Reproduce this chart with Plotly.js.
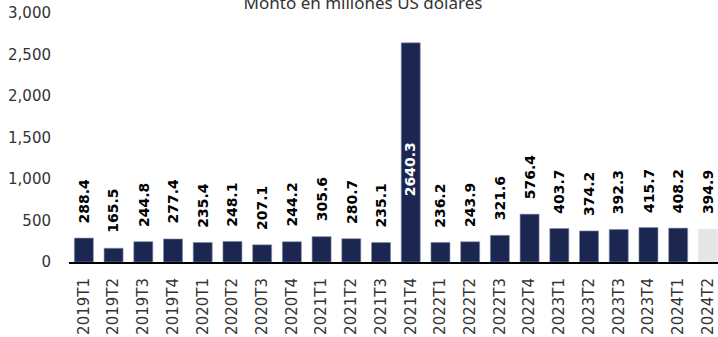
<!DOCTYPE html>
<html><head><meta charset="utf-8">
<script src="https://cdn.plot.ly/plotly-3.0.1.min.js"></script>
<style>html,body{margin:0;padding:0;background:#fff;}#chart{width:718px;height:337px;}</style>
</head><body><div id="chart"></div>
<script>
const categories = ["2019T1","2019T2","2019T3","2019T4","2020T1","2020T2","2020T3","2020T4","2021T1","2021T2","2021T3","2021T4","2022T1","2022T2","2022T3","2022T4","2023T1","2023T2","2023T3","2023T4","2024T1","2024T2"];
const values = [288.4,165.5,244.8,277.4,235.4,248.1,207.1,244.2,305.6,280.7,235.1,2640.3,236.2,243.9,321.6,576.4,403.7,374.2,392.3,415.7,408.2,394.9];
const projected = [false,false,false,false,false,false,false,false,false,false,false,false,false,false,false,false,false,false,false,false,false,true];
const insideLabelY = 1115; // label position for the outlier bar

const NAVY = '#1b2651';
const GRAY = '#e6e6e6';
const colors = projected.map(p => p ? GRAY : NAVY);
const lineColors = projected.map(p => p ? GRAY : '#8a91ab');

const annotations = categories.map((c, i) => {
  const big = values[i] > 2000;
  return {
    x: c, y: big ? insideLabelY : values[i], xref: 'x', yref: 'y',
    text: values[i].toFixed(1), showarrow: false, textangle: -90,
    yanchor: big ? 'middle' : 'bottom', yshift: big ? 0 : 13,
    font: {family: 'DejaVu Sans', size: 14, color: big ? '#ffffff' : '#000000', weight: 'bold'}
  };
});

const trace = {
  type: 'bar', x: categories, y: values,
  marker: {color: colors, line: {color: lineColors, width: 0.6}},
  hoverinfo: 'x+y'
};

const layout = {
  width: 718, height: 337,
  margin: {l: 69, r: 0, t: 13, b: 75, pad: 0},
  paper_bgcolor: '#fff', plot_bgcolor: '#fff',
  bargap: 0.36,
  showlegend: false,
  title: {text: 'Monto en millones US dólares', font: {family: 'Noto Sans', size: 17, color: '#333'}, x: 0.5056, xanchor: 'center', xref: 'container', y: 0.972, yref: 'container', yanchor: 'bottom'},
  xaxis: {
    type: 'category', range: [-0.5, 21.34], tickangle: -90,
    showline: true, linecolor: '#000', linewidth: 2, showgrid: false, zeroline: false,
    ticks: 'outside', ticklen: 8, tickcolor: 'rgba(0,0,0,0)',
    tickfont: {family: 'DejaVu Sans', size: 15, color: '#333'}
  },
  yaxis: {
    range: [0, 3000], tickvals: [0,500,1000,1500,2000,2500,3000], tickformat: ',d',
    showline: false, showgrid: false, zeroline: false,
    ticks: 'outside', ticklen: 14, tickcolor: 'rgba(0,0,0,0)',
    tickfont: {family: 'DejaVu Sans', size: 15, color: '#333'}
  },
  annotations: annotations
};

Plotly.newPlot('chart', [trace], layout, {displayModeBar: false, staticPlot: true});
</script></body></html>
